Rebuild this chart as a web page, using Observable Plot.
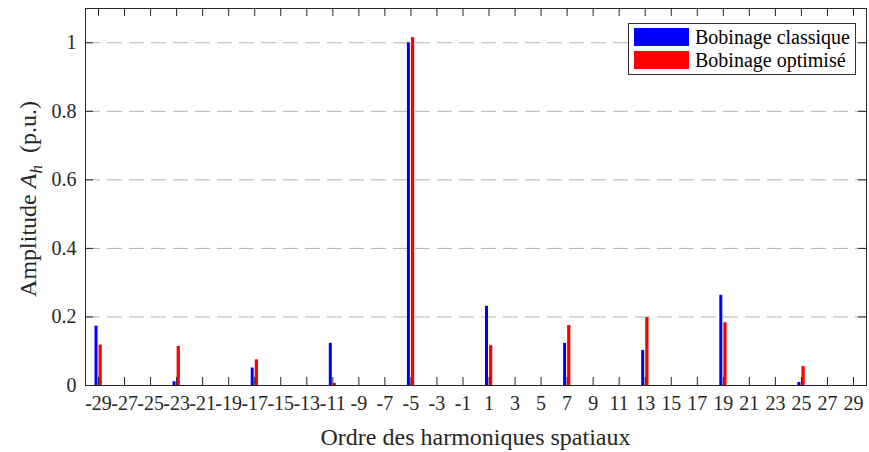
<!DOCTYPE html>
<html>
<head>
<meta charset="utf-8">
<script src="https://cdn.jsdelivr.net/npm/d3@7"></script>
<script src="https://cdn.jsdelivr.net/npm/@observablehq/plot@0.6"></script>
<style>
  body { margin: 0; background: #fff; }
  #wrap { position: relative; width: 869px; height: 452px; font-family: "Liberation Serif", "Times New Roman", serif; }
  #legend { position: absolute; left: 628px; top: 23px; width: 228px; height: 52px; border: 1px solid #333; background: #fff; box-sizing: border-box; font-size: 20px; color: #000; }
  .row { position: absolute; left: 5px; height: 18px; display: flex; align-items: center; white-space: nowrap; }
  .sw { width: 55px; height: 18px; margin-right: 6px; }
</style>
</head>
<body>
<div id="wrap"></div>
<script>
// Data
const harmonics = [-29,-27,-25,-23,-21,-19,-17,-15,-13,-11,-9,-7,-5,-3,-1,1,3,5,7,9,11,13,15,17,19,21,23,25,27,29];
const classique = [0.173,0,0,0.011,0,0,0.051,0,0,0.123,0,0,1.0,0,0,0.231,0,0,0.123,0,0,0.102,0,0,0.263,0,0,0.009,0,0];
const optimise  = [0.118,0,0,0.114,0,0,0.075,0,0,0.006,0,0,1.015,0,0,0.116,0,0,0.175,0,0,0.198,0,0,0.183,0,0,0.055,0,0];
const yTicks = [0, 0.2, 0.4, 0.6, 0.8, 1];
const seriesNames = ["Bobinage classique", "Bobinage optimisé"];
const seriesColors = ["#0000ff", "#ff0000"];

const W = 869, H = 452, mL = 85, mR = 3, mT = 8, mB = 67;
const innerW = W - mL - mR, innerH = H - mT - mB;
const FONT = "'Liberation Serif', 'Times New Roman', serif";

const rows = [];
harmonics.forEach((h, i) => {
  rows.push({h, v: classique[i], s: seriesNames[0], off: [-0.27, -0.04]});
  rows.push({h, v: optimise[i], s: seriesNames[1], off: [0.04, 0.29]});
});

const tickLen = 8;
const chart = Plot.plot({
  width: W, height: H,
  marginLeft: mL, marginRight: mR, marginTop: mT, marginBottom: mB,
  style: {fontFamily: FONT, fontSize: "20px", color: "#262626"},
  x: {type: "linear", domain: [-30, 30]},
  y: {domain: [0, 1.1]},
  color: {domain: seriesNames, range: seriesColors},
  marks: [
    Plot.ruleY(yTicks.filter(d => d > 0), {y: d => d, stroke: "#b3b3b3", strokeWidth: 1, strokeDasharray: "15,7"}),
    Plot.rectY(rows, {x1: d => d.h + d.off[0], x2: d => d.h + d.off[1], y1: 0, y2: "v", fill: "s"}),
    // inward ticks
    Plot.ruleX(harmonics, {x: d => d, insetTop: innerH - tickLen, stroke: "#262626"}),
    Plot.ruleX(harmonics, {x: d => d, insetBottom: innerH - tickLen, stroke: "#262626"}),
    Plot.ruleY(yTicks, {y: d => d, insetRight: innerW - tickLen, stroke: "#262626"}),
    Plot.ruleY(yTicks, {y: d => d, insetLeft: innerW - tickLen, stroke: "#262626"}),
    Plot.frame({stroke: "#262626", strokeWidth: 1}),
    Plot.axisX(harmonics, {tickSize: 0, tickPadding: 10, fontSize: 20, label: null, tickFormat: d => String(d).replace("−", "-")}),
    Plot.axisY(yTicks, {tickSize: 0, tickPadding: 9, fontSize: 20, label: null, tickFormat: d => String(d)})
  ]
});

document.getElementById("wrap").appendChild(chart);
const svg = d3.select(chart);
svg.selectAll("text").style("font-family", FONT);
// x label
svg.append("text")
  .attr("x", mL + innerW / 2).attr("y", 445)
  .attr("text-anchor", "middle")
  .style("font-family", FONT)
  .style("font-size", "24px").attr("fill", "#262626")
  .text("Ordre des harmoniques spatiaux");
// y label
const yl = svg.append("text")
  .attr("transform", `translate(36, 199) rotate(-90)`)
  .attr("text-anchor", "middle")
  .style("font-family", FONT)
  .style("font-size", "24px").attr("fill", "#262626");
yl.append("tspan").text("Amplitude ");
yl.append("tspan").style("font-style", "italic").text("A");
yl.append("tspan").style("font-style", "italic").style("font-size", "17px").attr("dy", 6).text("h");
yl.append("tspan").attr("dy", -6).text("\u00a0\u00a0(p.u.)");

// legend
const lg = document.createElement("div");
lg.id = "legend";
seriesNames.forEach((n, i) => {
  const r = document.createElement("div");
  r.className = "row";
  r.style.top = (4 + i * 23) + "px";
  r.innerHTML = `<div class="sw" style="background:${seriesColors[i]}"></div><span>${n}</span>`;
  lg.appendChild(r);
});
document.getElementById("wrap").appendChild(lg);
</script>
</body>
</html>
